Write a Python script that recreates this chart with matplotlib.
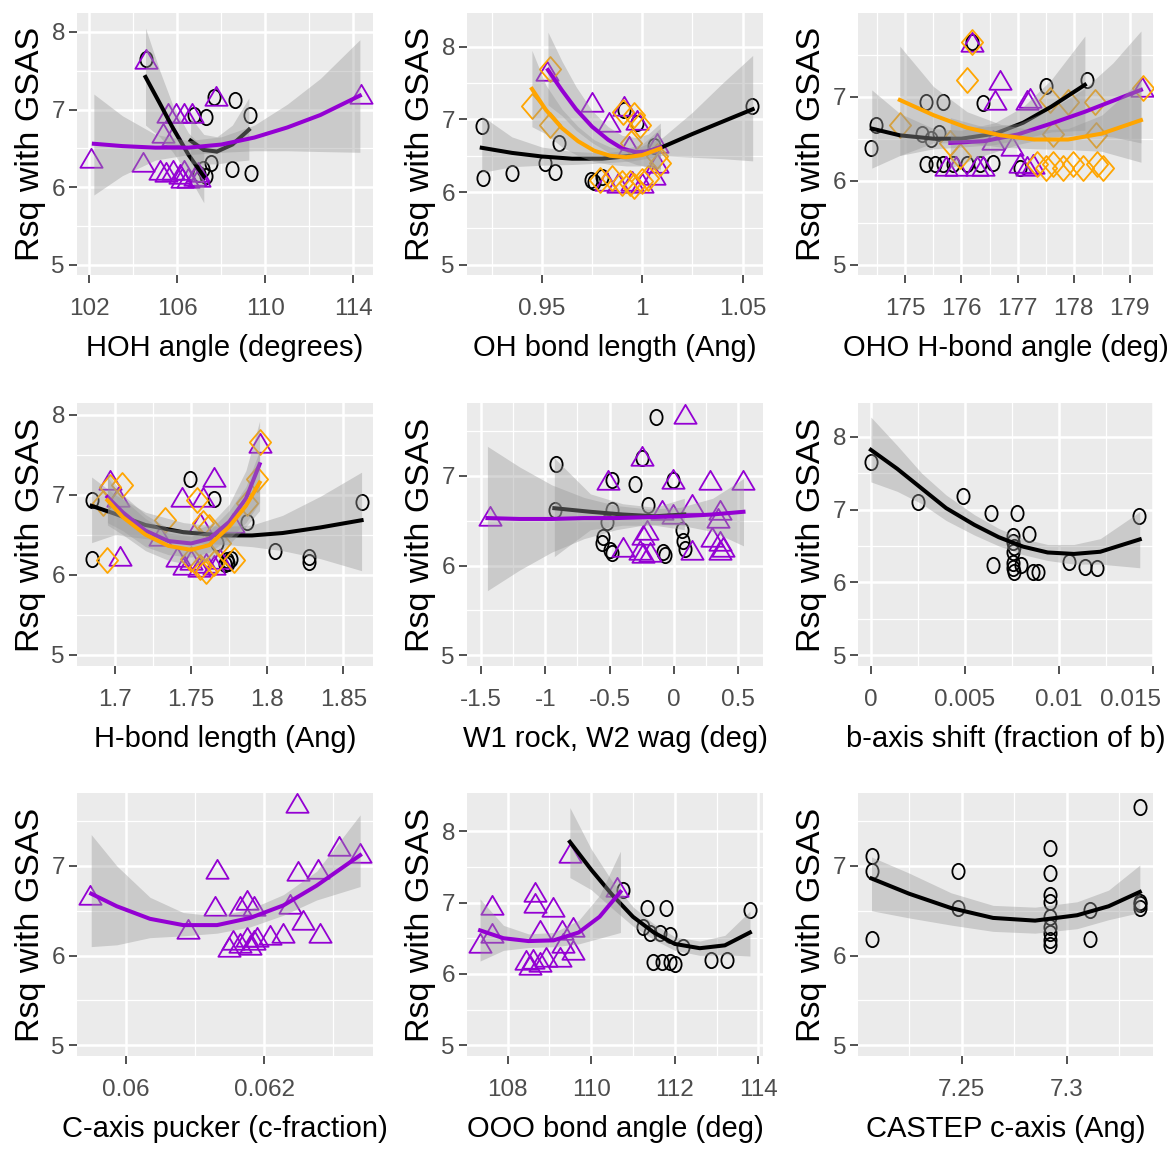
import numpy as np
import matplotlib
matplotlib.use("Agg")
import matplotlib.pyplot as plt
from matplotlib.path import Path
from matplotlib.transforms import Affine2D, ScaledTranslation
from matplotlib import font_manager

# ---------------- data ----------------
# panel 1: HOH angle
hoh_blk_x = [104.55, 106.75, 107.3, 107.65, 108.6, 109.3, 107.55, 108.5, 109.35, 107.0, 107.15, 107.3]
hoh_blk_y = [7.65, 6.93, 6.91, 7.16, 7.12, 6.93, 6.31, 6.24, 6.18, 6.17, 6.24, 6.14]
hoh_pur_x = [102.05, 104.55, 104.45, 105.35, 105.8, 105.55, 105.95, 106.3, 106.65, 107.75, 114.35,
             105.2, 105.5, 105.8, 106.1, 106.3, 106.5, 106.8, 107.0, 106.95, 106.2]
hoh_pur_y = [6.38, 7.65, 6.32, 6.7, 6.66, 6.95, 6.95, 6.95, 6.95, 7.17, 7.2,
             6.22, 6.2, 6.22, 6.17, 6.22, 6.12, 6.15, 6.13, 6.2, 6.12]
hoh_blk_cx = [104.55, 105.2, 105.8, 106.5, 107.2]
hoh_blk_fit = [7.42, 7.08, 6.76, 6.42, 6.14]
hoh_blk_lo = [6.8, 6.65, 6.45, 6.15, 5.8]
hoh_blk_hi = [8.05, 7.5, 7.05, 6.7, 6.5]
hoh_blk2_cx = [106.6, 107.2, 107.8, 108.5, 109.25]
hoh_blk2_fit = [6.6, 6.48, 6.46, 6.55, 6.74]
hoh_blk2_lo = [6.3, 6.3, 6.3, 6.33, 6.35]
hoh_blk2_hi = [6.9, 6.68, 6.65, 6.8, 7.15]
hoh_pur_cx = [102.2, 103.5, 105, 106.5, 108, 109.5, 111, 112.5, 114.3]
hoh_pur_fit = [6.56, 6.53, 6.51, 6.51, 6.55, 6.64, 6.77, 6.93, 7.18]
hoh_pur_lo = [5.9, 6.15, 6.35, 6.42, 6.45, 6.47, 6.47, 6.46, 6.45]
hoh_pur_hi = [7.2, 6.92, 6.68, 6.6, 6.65, 6.8, 7.07, 7.4, 7.9]

# panel 2: OH bond length
oh_blk_x = [0.92, 0.9208, 0.935, 0.9517, 0.9567, 0.9583, 0.9742, 0.976, 0.98, 0.9908, 0.9975, 1.0547, 1.0058]
oh_blk_y = [6.91, 6.19, 6.26, 6.40, 6.28, 6.67, 6.17, 6.14, 6.21, 7.13, 6.95, 7.18, 6.63]
oh_pur_x = [0.9525, 0.975, 0.9833, 0.9908, 0.9975, 1.0075, 1.0075, 1.0058, 0.982, 0.988, 0.995, 1.0, 0.9933]
oh_pur_y = [7.66, 7.24, 6.97, 7.18, 6.99, 6.67, 6.40, 6.24, 6.15, 6.13, 6.15, 6.12, 6.63]
oh_org_x = [0.954, 0.945, 0.954, 0.9905, 0.996, 0.999, 0.9942, 1.009, 1.0075, 0.979, 0.985, 0.99,
            0.994, 0.996, 1.0, 1.003]
oh_org_y = [7.7, 7.18, 6.92, 7.1, 7.06, 6.93, 6.67, 6.4, 6.5, 6.17, 6.2, 6.12, 6.12, 6.08, 6.15, 6.2]
oh_blk_cx = [0.92, 0.935, 0.95, 0.965, 0.98, 0.995, 1.01, 1.025, 1.04, 1.055]
oh_blk_fit = [6.61, 6.54, 6.49, 6.46, 6.46, 6.5, 6.62, 6.8, 6.97, 7.14]
oh_blk_lo = [6.27, 6.35, 6.37, 6.38, 6.4, 6.43, 6.5, 6.48, 6.46, 6.43]
oh_blk_hi = [7.05, 6.76, 6.62, 6.56, 6.54, 6.58, 6.75, 7.1, 7.5, 7.88]
oh_pur_cx = [0.953, 0.96, 0.967, 0.975, 0.983, 0.99, 0.997, 1.003, 1.009]
oh_pur_fit = [7.68, 7.4, 7.14, 6.9, 6.72, 6.6, 6.55, 6.56, 6.62]
oh_pur_lo = [7.2, 7.05, 6.85, 6.68, 6.55, 6.45, 6.38, 6.35, 6.3]
oh_pur_hi = [8.2, 7.8, 7.45, 7.12, 6.9, 6.78, 6.75, 6.8, 6.95]
oh_org_cx = [0.945, 0.952, 0.96, 0.968, 0.976, 0.984, 0.992, 1.0, 1.009]
oh_org_fit = [7.42, 7.13, 6.88, 6.7, 6.57, 6.5, 6.48, 6.51, 6.6]
oh_org_lo = [6.9, 6.8, 6.62, 6.5, 6.42, 6.38, 6.36, 6.36, 6.32]
oh_org_hi = [7.95, 7.47, 7.14, 6.9, 6.72, 6.62, 6.6, 6.66, 6.88]

# panel 3: OHO H-bond angle
oho_blk_x = [174.39, 174.48, 175.37, 175.67, 176.38, 177.51, 178.23, 175.3, 175.45, 175.6,
             175.37, 175.52, 175.67, 175.85, 176.09, 176.33, 176.56, 177.04, 176.18]
oho_blk_y = [6.39, 6.66, 6.94, 6.94, 6.92, 7.13, 7.2, 6.55, 6.5, 6.57,
             6.2, 6.2, 6.2, 6.2, 6.2, 6.2, 6.21, 6.15, 7.65]
oho_pur_x = [176.18, 176.68, 176.59, 177.16, 177.22, 179.21, 176.56, 176.9, 175.73, 175.91,
             176.27, 176.38, 177.04, 177.16, 177.28]
oho_pur_y = [7.65, 7.2, 6.96, 6.96, 6.98, 7.12, 6.49, 6.41, 6.17, 6.17, 6.17, 6.17, 6.21, 6.17, 6.2]
oho_org_x = [176.18, 176.09, 174.9, 177.57, 177.9, 178.38, 179.24, 175.79, 175.97, 177.63, 178.4,
             177.34, 177.51, 177.63, 177.81, 177.99, 178.17, 178.41, 178.53]
oho_org_y = [7.65, 7.2, 6.66, 6.96, 6.94, 6.94, 7.1, 6.45, 6.29, 6.56, 6.54,
             6.2, 6.15, 6.2, 6.15, 6.2, 6.15, 6.2, 6.15]
oho_blk_cx = [174.4, 174.9, 175.5, 176.0, 176.6, 177.1, 177.6, 178.2]
oho_blk_fit = [6.62, 6.54, 6.5, 6.5, 6.56, 6.69, 6.88, 7.14]
oho_blk_lo = [6.15, 6.3, 6.38, 6.4, 6.43, 6.5, 6.58, 6.6]
oho_blk_hi = [7.08, 6.8, 6.62, 6.6, 6.69, 6.88, 7.2, 7.72]
oho_pur_cx = [175.8, 176.4, 177.0, 177.6, 178.2, 178.7, 179.2]
oho_pur_fit = [6.45, 6.47, 6.55, 6.68, 6.82, 6.95, 7.08]
oho_pur_lo = [6.15, 6.3, 6.43, 6.52, 6.55, 6.52, 6.45]
oho_pur_hi = [6.75, 6.64, 6.68, 6.85, 7.1, 7.4, 7.78]
oho_org_cx = [174.9, 175.5, 176.1, 176.7, 177.3, 177.9, 178.5, 179.2]
oho_org_fit = [6.96, 6.78, 6.63, 6.54, 6.49, 6.49, 6.56, 6.72]
oho_org_lo = [6.3, 6.45, 6.45, 6.4, 6.38, 6.37, 6.35, 6.22]
oho_org_hi = [7.6, 7.12, 6.82, 6.67, 6.6, 6.62, 6.78, 7.2]

# panel 4: H-bond length
hb_blk_x = [1.6846, 1.6846, 1.7493, 1.7647, 1.7866, 1.8053, 1.8272, 1.8272, 1.8623,
            1.7735, 1.7745, 1.776, 1.772, 1.767]
hb_blk_y = [6.93, 6.2, 7.2, 6.95, 6.66, 6.29, 6.22, 6.16, 6.91, 6.18, 6.14, 6.2, 6.13, 6.39]
hb_pur_x = [1.6967, 1.702, 1.7033, 1.7439, 1.7647, 1.7581, 1.7954, 1.7778, 1.7559, 1.7296,
            1.7406, 1.745, 1.75, 1.755, 1.76, 1.765, 1.769]
hb_pur_y = [7.18, 6.97, 6.23, 6.97, 7.22, 6.97, 7.64, 6.64, 6.64, 6.48,
            6.22, 6.12, 6.18, 6.1, 6.15, 6.12, 6.2]
hb_org_x = [1.6945, 1.6967, 1.7044, 1.6923, 1.7329, 1.7537, 1.7954, 1.7932, 1.7866, 1.7581,
            1.7779, 1.7559, 1.75, 1.76, 1.765, 1.769, 1.762]
hb_org_y = [6.18, 7.1, 7.12, 6.89, 6.68, 6.93, 7.66, 7.2, 6.89, 6.64,
            6.18, 6.1, 6.2, 6.05, 6.15, 6.39, 6.6]
hb_blk_cx = [1.6846, 1.70, 1.72, 1.745, 1.77, 1.79, 1.81, 1.835, 1.862]
hb_blk_fit = [6.86, 6.76, 6.62, 6.53, 6.49, 6.49, 6.52, 6.59, 6.68]
hb_blk_lo = [6.4, 6.5, 6.45, 6.4, 6.38, 6.35, 6.3, 6.2, 6.05]
hb_blk_hi = [7.22, 7.0, 6.78, 6.65, 6.6, 6.62, 6.74, 6.98, 7.28]
hb_pur_cx = [1.695, 1.705, 1.72, 1.735, 1.75, 1.762, 1.775, 1.786, 1.795]
hb_pur_fit = [6.97, 6.78, 6.55, 6.42, 6.39, 6.45, 6.66, 6.95, 7.38]
hb_pur_lo = [6.65, 6.55, 6.35, 6.25, 6.22, 6.28, 6.45, 6.65, 6.9]
hb_pur_hi = [7.28, 7.0, 6.75, 6.58, 6.55, 6.62, 6.88, 7.3, 7.92]
hb_org_cx = [1.695, 1.705, 1.72, 1.735, 1.75, 1.762, 1.775, 1.786, 1.795]
hb_org_fit = [6.93, 6.72, 6.5, 6.36, 6.31, 6.37, 6.6, 6.86, 7.15]
hb_org_lo = [6.62, 6.5, 6.3, 6.18, 6.12, 6.18, 6.38, 6.6, 6.8]
hb_org_hi = [7.22, 6.95, 6.7, 6.52, 6.48, 6.55, 6.8, 7.1, 7.55]

# panel 5: W1 rock, W2 wag
wr_blk_x = [-0.917, -0.142, -0.484, -0.303, -0.251, -0.01, -0.2, -0.484, -0.523, -0.55, -0.56,
            -0.5, -0.48, -0.083, -0.07, 0.06, 0.07, 0.085, -0.925]
wr_blk_y = [7.13, 7.66, 6.95, 6.91, 7.2, 6.95, 6.68, 6.62, 6.49, 6.32, 6.25,
            6.17, 6.14, 6.15, 6.12, 6.4, 6.27, 6.19, 6.62]
wr_pur_x = [-1.43, 0.085, -0.246, -0.51, -0.005, 0.28, 0.54, 0.137, 0.357, 0.345, -0.096, -0.005,
            -0.212, -0.24, 0.293, 0.357, 0.383, 0.357, -0.394, -0.264, -0.24, -0.19, 0.137]
wr_pur_y = [6.55, 7.69, 7.22, 6.96, 6.97, 6.96, 6.96, 6.69, 6.62, 6.53, 6.62, 6.58,
            6.4, 6.34, 6.32, 6.27, 6.21, 6.17, 6.21, 6.17, 6.14, 6.15, 6.17]
wr_blk_cx = [-0.93, -0.65, -0.4, -0.15, 0.08]
wr_blk_fit = [6.64, 6.6, 6.57, 6.55, 6.57]
wr_blk_lo = [6.1, 6.4, 6.45, 6.45, 6.4]
wr_blk_hi = [7.2, 6.8, 6.69, 6.65, 6.75]
wr_pur_cx = [-1.45, -1.2, -0.95, -0.7, -0.45, -0.2, 0.05, 0.3, 0.54]
wr_pur_fit = [6.53, 6.52, 6.52, 6.53, 6.53, 6.54, 6.55, 6.57, 6.6]
wr_pur_lo = [5.72, 5.95, 6.15, 6.3, 6.4, 6.46, 6.45, 6.38, 6.22]
wr_pur_hi = [7.33, 7.1, 6.9, 6.76, 6.67, 6.63, 6.65, 6.75, 6.97]

# panel 6: b-axis shift
bs_blk_x = [0, 0.00251, 0.00489, 0.0064, 0.00776, 0.00843, 0.00648, 0.00754, 0.00754, 0.00763,
            0.00754, 0.00754, 0.00763, 0.00754, 0.00799, 0.0086, 0.00887, 0.01055, 0.0114,
            0.01205, 0.01426]
bs_blk_y = [7.66, 7.11, 7.18, 6.95, 6.95, 6.66, 6.24, 6.26, 6.19, 6.14,
            6.63, 6.56, 6.49, 6.42, 6.24, 6.14, 6.14, 6.28, 6.21, 6.19, 6.91]
bs_blk_cx = [0, 0.0014, 0.0027, 0.004, 0.0055, 0.0068, 0.0081, 0.0094, 0.0108, 0.0122, 0.0143]
bs_blk_fit = [7.82, 7.56, 7.29, 7.02, 6.79, 6.62, 6.49, 6.41, 6.39, 6.42, 6.59]
bs_blk_lo = [7.38, 7.25, 7.08, 6.85, 6.65, 6.5, 6.38, 6.3, 6.25, 6.25, 6.2]
bs_blk_hi = [8.27, 7.88, 7.5, 7.2, 6.93, 6.74, 6.6, 6.52, 6.52, 6.6, 6.97]

# panel 7: C-axis pucker
cp_pur_x = [0.059484, 0.060906, 0.061316, 0.061292, 0.062472, 0.063089, 0.063388, 0.062496,
            0.062786, 0.062376, 0.062569, 0.06281, 0.06228, 0.062087, 0.06175, 0.06165, 0.06185,
            0.061557, 0.06165, 0.06175, 0.06185, 0.0618, 0.0619, 0.0615]
cp_pur_y = [6.68, 6.30, 6.97, 6.55, 7.7, 7.22, 7.14, 6.94, 6.97, 6.58, 6.4, 6.25, 6.25, 6.23,
            6.62, 6.55, 6.55, 6.17, 6.14, 6.21, 6.17, 6.12, 6.21, 6.1]
cp_pur_cx = [0.0595, 0.05987, 0.06035, 0.06083, 0.06132, 0.0618, 0.06228, 0.06276, 0.06339]
cp_pur_fit = [6.69, 6.55, 6.41, 6.34, 6.34, 6.42, 6.56, 6.78, 7.12]
cp_pur_lo = [6.1, 6.12, 6.2, 6.22, 6.25, 6.32, 6.45, 6.62, 6.77]
cp_pur_hi = [7.35, 7.0, 6.65, 6.48, 6.44, 6.52, 6.68, 6.94, 7.57]

# panel 8: OOO bond angle
ooo_blk_x = [110.77, 111.33, 111.79, 113.8, 111.25, 111.4, 111.65, 111.89, 112.2, 111.49,
             111.69, 111.89, 112.0, 112.88, 113.24]
ooo_blk_y = [7.17, 6.92, 6.92, 6.89, 6.66, 6.57, 6.57, 6.54, 6.38, 6.17, 6.17, 6.17, 6.14, 6.19, 6.19]
ooo_pur_x = [107.34, 107.62, 107.62, 108.65, 108.65, 109.09, 109.49, 108.77, 109.29, 109.57,
             109.33, 109.57, 109.25, 110.61, 108.45, 108.61, 108.77, 108.93, 108.53]
ooo_pur_y = [6.43, 6.96, 6.57, 7.15, 6.99, 6.94, 7.69, 6.61, 6.61, 6.66,
             6.43, 6.33, 6.24, 7.22, 6.19, 6.21, 6.17, 6.24, 6.12]
ooo_blk_cx = [109.49, 110.0, 110.5, 111.0, 111.5, 112.0, 112.6, 113.2, 113.8]
ooo_blk_fit = [7.85, 7.46, 7.11, 6.8, 6.58, 6.42, 6.36, 6.4, 6.58]
ooo_blk_lo = [7.35, 7.18, 6.92, 6.67, 6.48, 6.33, 6.26, 6.27, 6.25]
ooo_blk_hi = [8.33, 7.75, 7.3, 6.94, 6.7, 6.52, 6.46, 6.54, 6.88]
ooo_pur_cx = [107.34, 107.9, 108.5, 109.1, 109.7, 110.2, 110.7]
ooo_pur_fit = [6.61, 6.5, 6.46, 6.47, 6.58, 6.8, 7.15]
ooo_pur_lo = [6.18, 6.33, 6.37, 6.38, 6.42, 6.5, 6.58]
ooo_pur_hi = [7.05, 6.68, 6.56, 6.58, 6.75, 7.1, 7.72]

# panel 9: CASTEP c-axis
cc_blk_x = [7.2071, 7.2071, 7.2071, 7.2484, 7.2484, 7.2921, 7.2921, 7.2921, 7.2921, 7.2921,
            7.2921, 7.2921, 7.2921, 7.2921, 7.3111, 7.3111, 7.3349, 7.3349, 7.3349, 7.3349]
cc_blk_y = [7.11, 6.94, 6.19, 6.94, 6.53, 7.2, 6.92, 6.68, 6.6, 6.43, 6.32, 6.25, 6.17, 6.12,
            6.51, 6.19, 7.66, 6.6, 6.53, 6.57]
cc_blk_cx = [7.2071, 7.225, 7.245, 7.265, 7.285, 7.305, 7.32, 7.3349]
cc_blk_fit = [6.86, 6.69, 6.53, 6.42, 6.39, 6.45, 6.55, 6.71]
cc_blk_lo = [6.5, 6.42, 6.34, 6.27, 6.25, 6.3, 6.4, 6.48]
cc_blk_hi = [7.1, 6.92, 6.7, 6.56, 6.54, 6.6, 6.73, 7.01]

# ---------------- style ----------------
BLK, PUR, ORG = "black", "#9400D3", "#FFA500"

names = {f.name for f in font_manager.fontManager.ttflist}
if "Liberation Sans Narrow" in names:
    NARROW, nscale = "Liberation Sans Narrow", 1.2
else:
    NARROW, nscale = "Liberation Sans", 1.0
REG = "Liberation Sans"

circ = Path.unit_circle().transformed(Affine2D().scale(0.8, 1.0))
tri = Path([(0, 0.52), (-0.6, -0.5), (0.6, -0.5), (0, 0.52)],
           [Path.MOVETO, Path.LINETO, Path.LINETO, Path.CLOSEPOLY])
dia = Path([(0, 1), (0.85, 0), (0, -1), (-0.85, 0), (0, 1)],
           [Path.MOVETO, Path.LINETO, Path.LINETO, Path.LINETO, Path.CLOSEPOLY])
MARK = {BLK: (circ, 11.0), PUR: (tri, 16.0), ORG: (dia, 18.0)}

panels = [
    dict(pts=[(hoh_blk_x, hoh_blk_y, BLK), (hoh_pur_x, hoh_pur_y, PUR)],
         fits=[(hoh_blk_cx, hoh_blk_fit, hoh_blk_lo, hoh_blk_hi, BLK),
               (hoh_blk2_cx, hoh_blk2_fit, hoh_blk2_lo, hoh_blk2_hi, BLK),
               (hoh_pur_cx, hoh_pur_fit, hoh_pur_lo, hoh_pur_hi, PUR)],
         xlim=(101.42, 114.91), ylim=(4.87, 8.24), xt=[102, 106, 110, 114], xl=["102", "106", "110", "114"],
         xm=[104, 108, 112], xlabel="HOH angle (degrees)"),
    dict(pts=[(oh_blk_x, oh_blk_y, BLK), (oh_pur_x, oh_pur_y, PUR), (oh_org_x, oh_org_y, ORG)],
         fits=[(oh_blk_cx, oh_blk_fit, oh_blk_lo, oh_blk_hi, BLK),
               (oh_pur_cx, oh_pur_fit, oh_pur_lo, oh_pur_hi, PUR),
               (oh_org_cx, oh_org_fit, oh_org_lo, oh_org_hi, ORG)],
         xlim=(0.9125, 1.0603), ylim=(4.86, 8.46), xt=[0.95, 1.0, 1.05], xl=["0.95", "1", "1.05"],
         xm=[0.925, 0.975, 1.025], xlabel="OH bond length (Ang)"),
    dict(pts=[(oho_blk_x, oho_blk_y, BLK), (oho_pur_x, oho_pur_y, PUR), (oho_org_x, oho_org_y, ORG)],
         fits=[(oho_blk_cx, oho_blk_fit, oho_blk_lo, oho_blk_hi, BLK),
               (oho_pur_cx, oho_pur_fit, oho_pur_lo, oho_pur_hi, PUR),
               (oho_org_cx, oho_org_fit, oho_org_lo, oho_org_hi, ORG)],
         xlim=(174.16, 179.42), ylim=(4.88, 7.99), xt=[175, 176, 177, 178, 179],
         xl=["175", "176", "177", "178", "179"], xm=[174.5, 175.5, 176.5, 177.5, 178.5],
         xlabel="OHO H-bond angle (deg)"),
    dict(pts=[(hb_blk_x, hb_blk_y, BLK), (hb_pur_x, hb_pur_y, PUR), (hb_org_x, hb_org_y, ORG)],
         fits=[(hb_blk_cx, hb_blk_fit, hb_blk_lo, hb_blk_hi, BLK),
               (hb_pur_cx, hb_pur_fit, hb_pur_lo, hb_pur_hi, PUR),
               (hb_org_cx, hb_org_fit, hb_org_lo, hb_org_hi, ORG)],
         xlim=(1.6748, 1.8697), ylim=(4.86, 8.14), xt=[1.7, 1.75, 1.8, 1.85], xl=["1.7", "1.75", "1.8", "1.85"],
         xm=[1.725, 1.775, 1.825], xlabel="H-bond length (Ang)"),
    dict(pts=[(wr_blk_x, wr_blk_y, BLK), (wr_pur_x, wr_pur_y, PUR)],
         fits=[(wr_blk_cx, wr_blk_fit, wr_blk_lo, wr_blk_hi, BLK),
               (wr_pur_cx, wr_pur_fit, wr_pur_lo, wr_pur_hi, PUR)],
         xlim=(-1.611, 0.694), ylim=(4.88, 7.81), xt=[-1.5, -1, -0.5, 0, 0.5],
         xl=["-1.5", "-1", "-0.5", "0", "0.5"], xm=[-1.25, -0.75, -0.25, 0.25],
         xlabel="W1 rock, W2 wag (deg)"),
    dict(pts=[(bs_blk_x, bs_blk_y, BLK)],
         fits=[(bs_blk_cx, bs_blk_fit, bs_blk_lo, bs_blk_hi, BLK)],
         xlim=(-0.00067, 0.01502), ylim=(4.85, 8.46), xt=[0, 0.005, 0.01, 0.015],
         xl=["0", "0.005", "0.01", "0.015"], xm=[0.0025, 0.0075, 0.0125],
         xlabel="b-axis shift (fraction of b)"),
    dict(pts=[(cp_pur_x, cp_pur_y, PUR)],
         fits=[(cp_pur_cx, cp_pur_fit, cp_pur_lo, cp_pur_hi, PUR)],
         xlim=(0.05929, 0.06358), ylim=(4.88, 7.81), xt=[0.06, 0.062], xl=["0.06", "0.062"],
         xm=[0.061, 0.063], xlabel="C-axis pucker (c-fraction)"),
    dict(pts=[(ooo_blk_x, ooo_blk_y, BLK), (ooo_pur_x, ooo_pur_y, PUR)],
         fits=[(ooo_blk_cx, ooo_blk_fit, ooo_blk_lo, ooo_blk_hi, BLK),
               (ooo_pur_cx, ooo_pur_fit, ooo_pur_lo, ooo_pur_hi, PUR)],
         xlim=(107.02, 114.12), ylim=(4.85, 8.53), xt=[108, 110, 112, 114], xl=["108", "110", "112", "114"],
         xm=[109, 111, 113], xlabel="OOO bond angle (deg)"),
    dict(pts=[(cc_blk_x, cc_blk_y, BLK)],
         fits=[(cc_blk_cx, cc_blk_fit, cc_blk_lo, cc_blk_hi, BLK)],
         xlim=(7.2008, 7.3413), ylim=(4.88, 7.81), xt=[7.25, 7.3], xl=["7.25", "7.3"],
         xm=[7.225, 7.275, 7.325], xlabel="CASTEP c-axis (Ang)"),
]

W, H = 1169, 1150
fig = plt.figure(figsize=(W / 100, H / 100), dpi=100)
lefts = [76.7, 466.7, 858.3]
rights = [373.3, 763.3, 1153.3]
tops = [13.3, 403.3, 793.3]
bottoms = [275.0, 666.0, 1056.0]

for i, p in enumerate(panels):
    r, c = divmod(i, 3)
    ax = fig.add_axes([lefts[c] / W, 1 - bottoms[r] / H,
                       (rights[c] - lefts[c]) / W, (bottoms[r] - tops[r]) / H])
    ax.set_facecolor("#EBEBEB")
    for s in ax.spines.values():
        s.set_visible(False)
    ax.set_axisbelow(True)

    for x, y, col in p["pts"]:
        path, ms = MARK[col]
        ax.plot(x, y, linestyle="none", marker=path, markersize=ms,
                markerfacecolor="none", markeredgecolor=col, markeredgewidth=1.3, zorder=2)
    for cx, fit, lo, hi, col in p["fits"]:
        ax.fill_between(cx, lo, hi, color="#999999", alpha=0.4, linewidth=0, zorder=3)
        ax.plot(cx, fit, color=col, linewidth=2.9, zorder=3)

    ax.set_xlim(*p["xlim"])
    ax.set_ylim(*p["ylim"])
    ax.set_xticks(p["xt"])
    ax.set_xticklabels(p["xl"])
    ax.set_xticks(p["xm"], minor=True)
    yt = [v for v in [5, 6, 7, 8] if v <= p["ylim"][1]]
    ax.set_yticks(yt)
    ax.set_yticklabels([str(v) for v in yt])
    ax.set_yticks([v for v in [5.5, 6.5, 7.5] if v <= p["ylim"][1]], minor=True)
    ax.grid(which="major", color="white", linewidth=1.8)
    ax.grid(which="minor", color="white", linewidth=0.9)
    ax.tick_params(which="major", length=5.5, width=1.2, color="#333333",
                   labelcolor="#4D4D4D", labelsize=17.5 * nscale)
    ax.tick_params(axis="x", pad=11)
    ax.tick_params(axis="y", pad=3)
    ax.tick_params(which="minor", length=0)
    for lab in ax.get_xticklabels() + ax.get_yticklabels():
        lab.set_fontfamily(NARROW)
    ax.set_xlabel(p["xlabel"], fontsize=21 * nscale, family=NARROW, color="black", labelpad=10)
    ax.set_ylabel("Rsq with GSAS", fontsize=24.5, family=REG, color="black", labelpad=4)

    if i == 5:
        # last label sits at the figure edge: keep it whole
        last = ax.get_xticklabels()[-1]
        last.set_horizontalalignment("right")
        last.set_transform(last.get_transform() + ScaledTranslation(6 / 72, 0, fig.dpi_scale_trans))

fig.savefig("out.png", dpi=100, facecolor="white")
